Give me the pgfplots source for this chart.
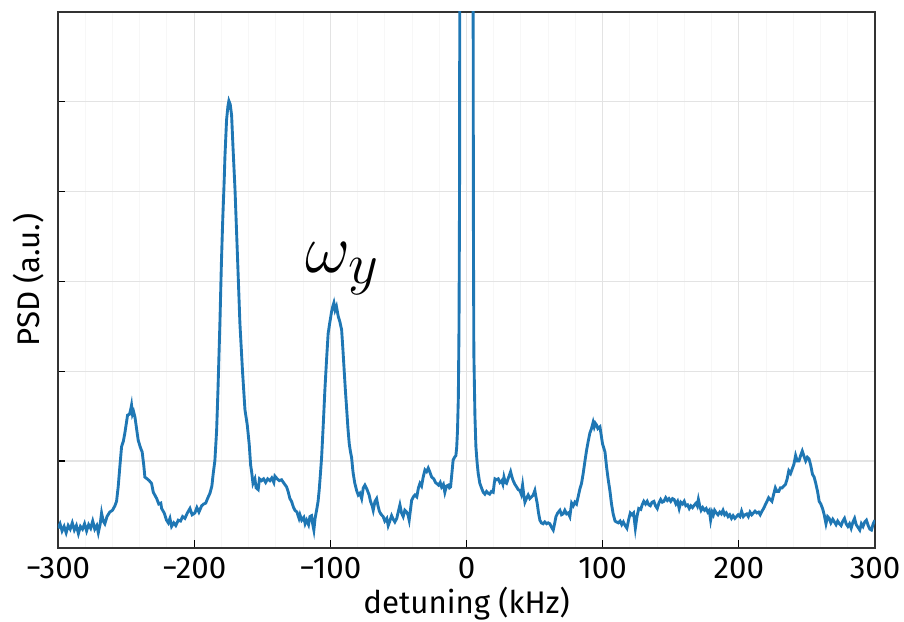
\documentclass[border=0pt]{standalone}
\usepackage{pgfplots}
\pgfplotsset{compat=1.18}
\usepackage{fontspec}
\setmainfont{Fira Sans}
\usetikzlibrary{calc}
\definecolor{cline}{HTML}{1F77B4}
\definecolor{cgrid}{HTML}{E3E3E3}
\definecolor{cminor}{HTML}{F7F7F7}
\definecolor{caxis}{HTML}{333333}

\begin{document}
\begin{tikzpicture}
\begin{axis}[
  scale only axis, width=326.8pt, height=214.4pt,
  xmin=-300, xmax=300, ymin=0.03, ymax=6,
  xtick={-300,-200,...,300},
  xticklabels={−300,−200,−100,0,100,200,300},
  ytick={1,2,3,4,5}, yticklabels={},
  minor x tick num=4,
  xtick pos=left, ytick pos=left,
  tick align=inside, major tick length=3pt, minor tick length=0pt,
  xmajorgrids, ymajorgrids, xminorgrids,
  major grid style={cgrid, line width=0.5pt},
  minor grid style={cminor, line width=0.4pt},
  axis line style={caxis, line width=0.6pt},
  tick style={black, line width=0.5pt},
  tick label style={font=\fontsize{12.5}{14}\selectfont},
  /pgf/number format/assume math mode=true,
  xlabel={detuning (kHz)}, ylabel={PSD (a.u.)},
  label style={font=\fontsize{12.5}{14}\selectfont},
  xlabel style={yshift=3.5pt},
  ylabel style={yshift=-5pt},
]
\addplot[cline, line width=1.15pt] coordinates {
(-300,0.25) (-298.5,0.30) (-297,0.22) (-295.5,0.27) (-294,0.20) (-292.5,0.28) (-291,0.24) (-289.5,0.31) (-288,0.23) (-286.5,0.28)
(-285,0.19) (-283.5,0.27) (-282,0.24) (-280.5,0.30) (-279,0.22) (-277.5,0.29) (-276,0.25) (-274.5,0.33) (-273,0.24) (-271.5,0.28)
(-270.4,0.20) (-269,0.30) (-268,0.42) (-266.8,0.33) (-265.6,0.30) (-264,0.38) (-262,0.43) (-260,0.45) (-258.2,0.50) (-257,0.55)
(-255.8,0.71) (-254.5,0.95) (-253.3,1.16) (-252,1.22) (-250.9,1.31) (-250,1.40) (-248.9,1.51) (-247.5,1.52) (-246.5,1.58) (-246,1.62)
(-245.3,1.52) (-244.5,1.55) (-243.5,1.49) (-242.3,1.36) (-241.1,1.23) (-239.5,1.15) (-238.2,1.10) (-237,0.95) (-236.2,0.82) (-234.5,0.80)
(-233,0.78) (-231.3,0.75) (-230,0.65) (-228.9,0.62) (-227.5,0.58) (-226,0.52) (-224.5,0.53) (-223.9,0.47) (-222,0.42) (-220.3,0.34)
(-219,0.31) (-217.8,0.36) (-216.6,0.27) (-215,0.31) (-213.5,0.28) (-211.7,0.34) (-210,0.33) (-208.5,0.38) (-206.8,0.36) (-205,0.42)
(-203.1,0.47) (-201.5,0.40) (-199.5,0.42) (-198,0.48) (-196.5,0.43) (-194.5,0.50) (-193,0.52) (-191.5,0.53) (-190.2,0.58) (-188.4,0.64)
(-187,0.72) (-186,0.86) (-184.8,1.00) (-183.5,1.34) (-182.5,1.80) (-181.1,2.53) (-180,3.20) (-179.1,3.65) (-178,4.10) (-177.4,4.39)
(-176.2,4.80) (-175.2,4.95) (-174.5,5.01) (-173.5,4.97) (-172.5,4.85) (-171.5,4.50) (-170,4.02) (-168,3.20) (-166.4,2.53) (-164.5,2.00)
(-162.7,1.57) (-161,1.40) (-159.6,1.19) (-158.5,0.95) (-157.8,0.88) (-156.8,0.75) (-155.4,0.80) (-154.5,0.70) (-153,0.68) (-152,0.80)
(-150.5,0.78) (-149,0.80) (-147.5,0.76) (-146,0.80) (-144.4,0.78) (-143,0.81) (-141.5,0.76) (-140.7,0.83) (-139,0.80) (-137.5,0.78)
(-135.8,0.79) (-134,0.75) (-132.1,0.71) (-131,0.66) (-129.7,0.58) (-128.5,0.55) (-127,0.48) (-126,0.45) (-124.5,0.43) (-123,0.36)
(-122.3,0.40) (-121,0.34) (-119.5,0.37) (-118.5,0.30) (-117.4,0.34) (-116,0.29) (-115,0.38) (-113.8,0.39) (-113,0.30) (-112.1,0.23)
(-111.2,0.36) (-110.1,0.45) (-109,0.55) (-108.2,0.67) (-107.3,0.85) (-106.4,1.04) (-105.2,1.40) (-104,1.79) (-102.8,2.12) (-101.6,2.42)
(-100.3,2.55) (-99.1,2.66) (-98.2,2.72) (-97.4,2.76) (-96.5,2.68) (-95.5,2.72) (-94.2,2.61) (-93,2.55) (-91.7,2.46) (-90.8,2.25)
(-90,2.05) (-89,1.80) (-88.1,1.60) (-87,1.35) (-86.1,1.19) (-85.2,1.10) (-84.4,1.04) (-83.5,0.90) (-83.2,0.86) (-82,0.75)
(-80.7,0.67) (-79.5,0.62) (-78.3,0.64) (-77,0.58) (-75.8,0.70) (-74.6,0.73) (-73,0.68) (-71.5,0.62) (-70.5,0.55) (-69.3,0.50)
(-68.5,0.45) (-67.2,0.55) (-66,0.58) (-65,0.50) (-64,0.44) (-63,0.41) (-61.2,0.38) (-60,0.33) (-58.5,0.36) (-57.5,0.28)
(-56.3,0.33) (-55,0.39) (-53.8,0.35) (-52.6,0.32) (-51.2,0.36) (-50,0.44) (-48.9,0.51) (-47.7,0.42) (-46.5,0.38) (-45.3,0.45)
(-44,0.43) (-43,0.40) (-42.1,0.34) (-41.2,0.45) (-40.3,0.56) (-39,0.60) (-37.9,0.62) (-36.5,0.60) (-35.3,0.70) (-34.2,0.75)
(-33,0.72) (-31.8,0.82) (-30.5,0.90) (-29.3,0.88) (-28.1,0.92) (-27,0.88) (-25.6,0.82) (-24,0.80) (-22.8,0.76) (-22,0.75)
(-20.5,0.73) (-19.3,0.76) (-18.3,0.71) (-17,0.74) (-15.9,0.65) (-14.7,0.72) (-13.4,0.73) (-12.5,0.70) (-11.7,0.71) (-10.8,0.85)
(-9.8,1.01) (-8.8,1.04) (-7.8,1.06) (-7.2,1.15) (-6.6,1.34) (-6,1.70) (-5.5,2.50) (-5.1,4.00) (-4.9,7.00) (-4.6,12)
(0,40) (4.5,12) (4.8,7) (5.1,3.5) (5.4,2.2) (6.2,1.5) (6.9,1.16) (7.8,0.98) (8.6,0.86) (9.8,0.75)
(11,0.70) (12.3,0.65) (13.5,0.63) (14.7,0.66) (15.9,0.64) (17,0.63) (18.3,0.66) (19.6,0.65) (20.3,0.74) (20.9,0.80)
(22,0.79) (23.3,0.80) (24.5,0.76) (25.8,0.78) (26.7,0.74) (27.5,0.82) (28.5,0.76) (29.4,0.75) (30.5,0.80) (31.5,0.84)
(32.4,0.88) (33.4,0.82) (34.3,0.78) (35.5,0.74) (36.8,0.71) (38,0.68) (39.2,0.67) (40.2,0.63) (41.2,0.73) (42.1,0.62)
(42.9,0.54) (44,0.58) (45.3,0.62) (46.5,0.58) (47.8,0.60) (49,0.62) (50.2,0.67) (51,0.60) (51.9,0.53) (52.9,0.42)
(53.9,0.34) (55,0.31) (56.3,0.30) (57.5,0.32) (58.8,0.30) (60,0.31) (61.2,0.30) (62.5,0.26) (63.7,0.23) (64.7,0.30)
(65.7,0.38) (67,0.42) (68.6,0.45) (69.8,0.40) (71,0.41) (72.2,0.45) (73.5,0.41) (74.7,0.42) (75.9,0.38) (77.2,0.53)
(78.4,0.50) (79.6,0.54) (80.8,0.52) (82,0.60) (83.3,0.69) (84.5,0.75) (85.7,0.86) (87,1.00) (88.2,1.12) (89.4,1.22)
(90.6,1.31) (91.8,1.36) (93,1.43) (93.8,1.38) (94.6,1.42) (95.5,1.40) (96.5,1.36) (98,1.38) (99,1.28) (99.9,1.19)
(101.7,1.10) (102.9,0.93) (104,0.80) (105.3,0.67) (106.5,0.52) (107.7,0.41) (109.1,0.33) (110.2,0.32) (111.5,0.31) (112.8,0.33)
(114,0.29) (115.2,0.32) (116.5,0.28) (117.8,0.25) (119,0.34) (120.3,0.42) (121.5,0.40) (122.7,0.42) (124,0.25) (125.2,0.38)
(126.5,0.47) (128,0.46) (129,0.51) (130.2,0.55) (131.5,0.52) (132.7,0.55) (133.9,0.51) (135,0.50) (136.3,0.54) (137.6,0.55)
(138.8,0.50) (140.1,0.47) (141.3,0.53) (142.6,0.57) (143.8,0.54) (145,0.55) (146.3,0.59) (147.5,0.56) (148.7,0.58) (150,0.55)
(151.3,0.58) (152.5,0.57) (153.8,0.52) (155,0.55) (156.2,0.47) (157.4,0.54) (158.7,0.52) (159.9,0.55) (161.1,0.50) (162.4,0.51)
(163.6,0.47) (164.8,0.50) (166,0.48) (167.4,0.51) (168.6,0.53) (169.5,0.50) (170.3,0.57) (171.3,0.50) (172.3,0.45) (173.5,0.48)
(174.8,0.45) (176,0.47) (177.2,0.43) (178.3,0.45) (179.3,0.34) (180.4,0.43) (181.3,0.40) (182.2,0.45) (183.5,0.42) (184.7,0.40)
(186,0.43) (187.2,0.41) (188.4,0.45) (189.6,0.40) (190.8,0.42) (192.1,0.38) (193.3,0.40) (194.6,0.36) (195.8,0.39) (197.1,0.36)
(198.3,0.38) (199.5,0.40) (200.8,0.38) (202,0.44) (203.3,0.38) (204.5,0.40) (205.8,0.41) (207,0.38) (208.2,0.43) (209.5,0.40)
(210.7,0.42) (211.9,0.44) (213.2,0.42) (214.5,0.43) (215.7,0.40) (217,0.44) (218.2,0.47) (219.4,0.51) (220.7,0.55) (221.9,0.59)
(223.1,0.57) (224.3,0.55) (225.6,0.63) (226.8,0.70) (228,0.66) (229.3,0.66) (230.5,0.70) (231.8,0.70) (233,0.72) (234.3,0.74)
(235.5,0.80) (236.7,0.89) (238,0.86) (239.2,0.91) (240.4,0.96) (241.7,1.06) (242.9,1.00) (244.2,1.00) (245.4,1.06) (246.6,1.11)
(247.9,1.05) (249.1,1.00) (250.3,1.04) (251.6,1.02) (252.8,0.95) (254.1,0.85) (255.3,0.82) (256.5,0.75) (257.8,0.66) (259,0.55)
(260.2,0.52) (261.5,0.47) (262.7,0.40) (264,0.30) (265.2,0.38) (266.4,0.36) (267.6,0.31) (269,0.35) (270.2,0.32) (271.4,0.29)
(272.6,0.33) (273.9,0.30) (275.1,0.28) (276.4,0.33) (277.6,0.36) (278.8,0.30) (280.1,0.27) (281.3,0.30) (282.5,0.25) (283.8,0.32)
(285,0.36) (286.2,0.29) (287.5,0.26) (288.8,0.23) (290,0.30) (291.2,0.27) (292.5,0.32) (293.7,0.34) (295,0.28) (296.2,0.24)
(297.4,0.23) (298.7,0.30) (300,0.34)
};
\node[scale=1.12, inner sep=0pt] at (axis cs:-91,3.14) {\Huge$\omega_y$};
\end{axis}
\pgfresetboundingbox
\path[use as bounding box] ($(current axis.south west)+(-23.2pt,-29.6pt)$) rectangle ($(current axis.north east)+(11.6pt,4.8pt)$);
\end{tikzpicture}
\end{document}
